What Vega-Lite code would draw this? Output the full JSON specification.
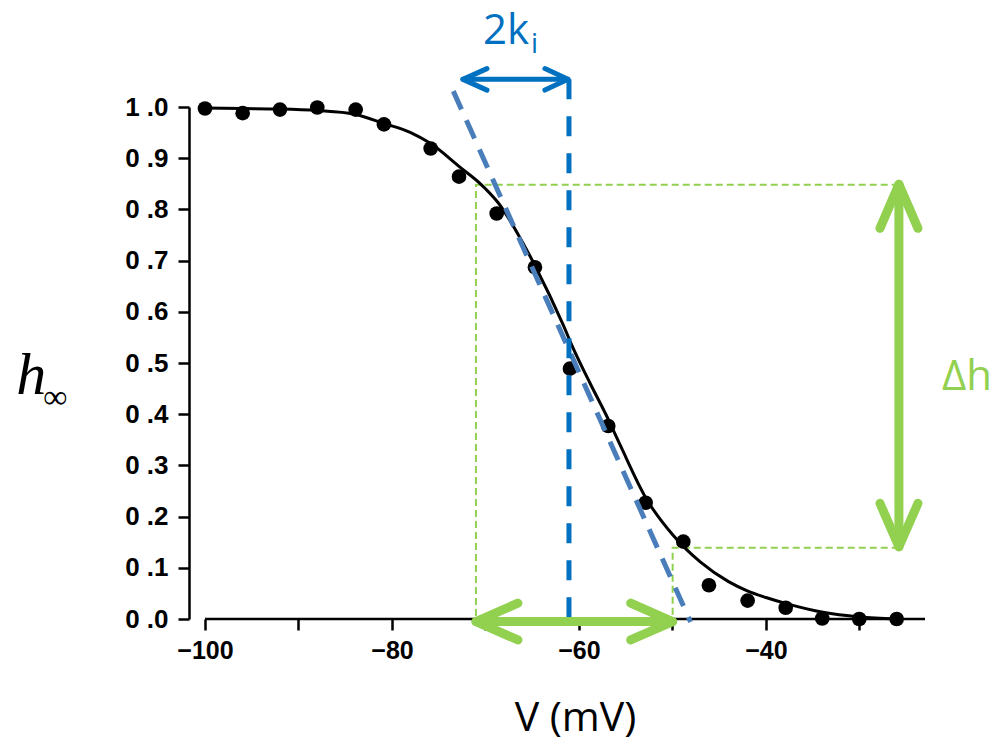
{
  "$schema": "https://vega.github.io/schema/vega-lite/v6.json",
  "width": 736,
  "height": 512,
  "autosize": {"type": "none"},
  "padding": {"left": 189, "top": 107, "right": 73, "bottom": 124},
  "background": "white",
  "config": {"view": {"stroke": null}},
  "datasets": {
    "axisline": [{"V": -100, "h": 0}, {"V": -22.99, "h": 0}],
    "dots": [
      {"V": -100, "h": 0.997}, {"V": -95.97, "h": 0.988}, {"V": -91.98, "h": 0.995},
      {"V": -87.99, "h": 0.999}, {"V": -83.88, "h": 0.995}, {"V": -80.86, "h": 0.966},
      {"V": -75.86, "h": 0.919}, {"V": -72.83, "h": 0.864}, {"V": -68.8, "h": 0.792},
      {"V": -64.71, "h": 0.687}, {"V": -60.96, "h": 0.489}, {"V": -56.87, "h": 0.377},
      {"V": -52.87, "h": 0.227}, {"V": -48.84, "h": 0.151}, {"V": -46.1, "h": 0.066},
      {"V": -41.96, "h": 0.036}, {"V": -37.89, "h": 0.022}, {"V": -33.98, "h": 0.001},
      {"V": -30.02, "h": 0.0}, {"V": -26.02, "h": 0.0}
    ],
    "curve": [
      {"V": -100, "h": 0.998}, {"V": -96, "h": 0.997}, {"V": -92, "h": 0.996},
      {"V": -88, "h": 0.993}, {"V": -84, "h": 0.986}, {"V": -80.9, "h": 0.968},
      {"V": -78, "h": 0.95}, {"V": -75.9, "h": 0.929}, {"V": -72.7, "h": 0.882},
      {"V": -70.6, "h": 0.851}, {"V": -68.6, "h": 0.812}, {"V": -66.1, "h": 0.738},
      {"V": -64.7, "h": 0.69}, {"V": -61.7, "h": 0.575}, {"V": -60.6, "h": 0.528},
      {"V": -58.8, "h": 0.46}, {"V": -57.0, "h": 0.395}, {"V": -55.6, "h": 0.34},
      {"V": -52.8, "h": 0.235}, {"V": -50.0, "h": 0.165}, {"V": -47.0, "h": 0.111},
      {"V": -44.0, "h": 0.073}, {"V": -42.0, "h": 0.055}, {"V": -40.0, "h": 0.042},
      {"V": -37.8, "h": 0.03}, {"V": -33.9, "h": 0.013}, {"V": -30.0, "h": 0.004},
      {"V": -26.0, "h": 0.0}
    ],
    "tangent": [{"V": -73.44, "h": 1.031}, {"V": -48.06, "h": -0.006}],
    "bluevert": [{"V": -61.07, "h": 1.054}, {"V": -61.07, "h": 0.0}],
    "greendash": [
      {"seg": "a", "o": 1, "V": -25.8, "h": 0.848},
      {"seg": "a", "o": 2, "V": -71.02, "h": 0.848},
      {"seg": "a", "o": 3, "V": -71.02, "h": 0.0},
      {"seg": "b", "o": 1, "V": -25.8, "h": 0.139},
      {"seg": "b", "o": 2, "V": -49.98, "h": 0.139},
      {"seg": "b", "o": 3, "V": -49.98, "h": 0.0}
    ],
    "bluearrow": [
      {"seg": "shaft", "o": 1, "V": -72.41, "h": 1.054},
      {"seg": "shaft", "o": 2, "V": -61.18, "h": 1.054},
      {"seg": "left", "o": 1, "V": -69.84, "h": 1.075},
      {"seg": "left", "o": 2, "V": -72.41, "h": 1.054},
      {"seg": "left", "o": 3, "V": -69.84, "h": 1.033},
      {"seg": "right", "o": 1, "V": -63.64, "h": 1.075},
      {"seg": "right", "o": 2, "V": -61.18, "h": 1.054},
      {"seg": "right", "o": 3, "V": -63.64, "h": 1.033}
    ],
    "greenarrow": [
      {"seg": "hshaft", "o": 1, "V": -71.02, "h": -0.005},
      {"seg": "hshaft", "o": 2, "V": -49.98, "h": -0.005},
      {"seg": "hleft", "o": 1, "V": -66.53, "h": 0.031},
      {"seg": "hleft", "o": 2, "V": -71.02, "h": -0.005},
      {"seg": "hleft", "o": 3, "V": -66.53, "h": -0.041},
      {"seg": "hright", "o": 1, "V": -54.47, "h": 0.031},
      {"seg": "hright", "o": 2, "V": -49.98, "h": -0.005},
      {"seg": "hright", "o": 3, "V": -54.47, "h": -0.041},
      {"seg": "vshaft", "o": 1, "V": -25.78, "h": 0.849},
      {"seg": "vshaft", "o": 2, "V": -25.78, "h": 0.141},
      {"seg": "vtop", "o": 1, "V": -27.81, "h": 0.763},
      {"seg": "vtop", "o": 2, "V": -25.78, "h": 0.849},
      {"seg": "vtop", "o": 3, "V": -23.74, "h": 0.763},
      {"seg": "vbot", "o": 1, "V": -27.81, "h": 0.226},
      {"seg": "vbot", "o": 2, "V": -25.78, "h": 0.141},
      {"seg": "vbot", "o": 3, "V": -23.74, "h": 0.226}
    ],
    "ktext": [{"V": -70.27, "h": 1.124, "t": "2k"}],
    "isub": [{"V": -65.13, "h": 1.105, "t": "i"}],
    "dhtext": [{"V": -21.18, "h": 0.447, "t": "Δh"}],
    "xtitle": [{"V": -60.37, "h": -0.2186, "t": "V (mV)"}],
    "htext": [{"V": -120.2, "h": 0.439, "t": "h"}],
    "inftext": [{"V": -116.0, "h": 0.412, "t": "∞"}]
  },
  "encoding": {
    "x": {
      "field": "V", "type": "quantitative",
      "scale": {"domain": [-101.71, -22.99], "nice": false, "zero": false},
      "axis": {
        "title": null, "domain": false, "grid": false,
        "values": [-100, -90, -80, -70, -60, -50, -40, -30],
        "labelExpr": "datum.value % 20 === 0 ? datum.label : ''",
        "tickSize": 11, "tickWidth": 2.5, "tickColor": "black",
        "labelFont": "Liberation Sans", "labelFontWeight": "bold", "labelFontSize": 25,
        "labelColor": "black", "labelPadding": 8, "labelFlush": false, "labelOverlap": false
      }
    },
    "y": {
      "field": "h", "type": "quantitative",
      "scale": {"domain": [0, 1], "nice": false, "zero": false},
      "axis": {
        "title": null, "grid": false,
        "values": [0, 0.1, 0.2, 0.3, 0.4, 0.5, 0.6, 0.7, 0.8, 0.9, 1.0],
        "labelExpr": "replace(format(datum.value, '.1f'), '.', ' .')",
        "domain": true, "domainColor": "black", "domainWidth": 2.5,
        "tickSize": 11, "tickWidth": 2.5, "tickColor": "black",
        "labelFont": "Liberation Sans", "labelFontWeight": "bold", "labelFontSize": 26,
        "labelColor": "black", "labelPadding": 10, "labelFlush": false, "labelOverlap": false
      }
    }
  },
  "layer": [
    {"data": {"name": "axisline"}, "mark": {"type": "line", "color": "black", "strokeWidth": 2.5}, "encoding": {}},
    {"data": {"name": "greendash"}, "mark": {"type": "line", "color": "#92D050", "strokeWidth": 2, "strokeDash": [7, 4]},
     "encoding": {"detail": {"field": "seg"}, "order": {"field": "o"}}},
    {"data": {"name": "curve"}, "mark": {"type": "line", "color": "black", "strokeWidth": 3, "interpolate": "monotone"}, "encoding": {}},
    {"data": {"name": "dots"}, "mark": {"type": "circle", "color": "black", "opacity": 1, "size": 215}},
    {"data": {"name": "tangent"}, "mark": {"type": "line", "color": "#4A7EBB", "strokeWidth": 5, "strokeDash": [20, 12]}, "encoding": {}},
    {"data": {"name": "bluevert"}, "mark": {"type": "line", "color": "#0070C0", "strokeWidth": 5, "strokeDash": [20, 17]},
     "encoding": {"order": {"field": "h", "sort": "descending"}}},
    {"data": {"name": "bluearrow"}, "mark": {"type": "line", "color": "#0070C0", "strokeWidth": 5, "strokeCap": "round", "strokeJoin": "round"},
     "encoding": {"detail": {"field": "seg"}, "order": {"field": "o"}}},
    {"data": {"name": "greenarrow"}, "mark": {"type": "line", "color": "#92D050", "strokeWidth": 9, "strokeCap": "round", "strokeJoin": "round"},
     "encoding": {"detail": {"field": "seg"}, "order": {"field": "o"}}},
    {"data": {"name": "ktext"}, "mark": {"type": "text", "font": "Open Sans", "fontSize": 42, "color": "#0070C0", "align": "left", "baseline": "alphabetic"},
     "encoding": {"text": {"field": "t"}}},
    {"data": {"name": "isub"}, "mark": {"type": "text", "font": "Open Sans", "fontSize": 28, "color": "#0070C0", "align": "left", "baseline": "alphabetic"},
     "encoding": {"text": {"field": "t"}}},
    {"data": {"name": "dhtext"}, "mark": {"type": "text", "font": "Open Sans", "fontSize": 42, "color": "#92D050", "align": "left", "baseline": "alphabetic"},
     "encoding": {"text": {"field": "t"}}},
    {"data": {"name": "xtitle"}, "mark": {"type": "text", "font": "Open Sans", "fontSize": 41, "color": "black", "align": "center", "baseline": "alphabetic"},
     "encoding": {"text": {"field": "t"}}},
    {"data": {"name": "htext"}, "mark": {"type": "text", "font": "Liberation Serif", "fontStyle": "italic", "fontSize": 60, "color": "black", "align": "left", "baseline": "alphabetic"},
     "encoding": {"text": {"field": "t"}}},
    {"data": {"name": "inftext"}, "mark": {"type": "text", "font": "Liberation Serif", "fontSize": 34, "color": "black", "align": "center", "baseline": "alphabetic"},
     "encoding": {"text": {"field": "t"}}}
  ]
}
